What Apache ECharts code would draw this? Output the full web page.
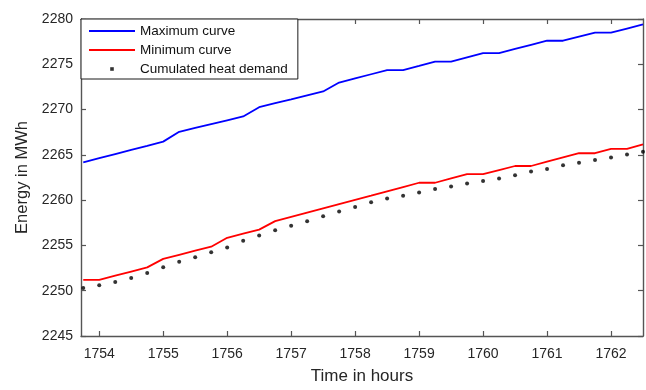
<!DOCTYPE html>
<html>
<head>
<meta charset="utf-8">
<script src="https://cdn.jsdelivr.net/npm/echarts@6/dist/echarts.min.js"></script>
<style>
  html, body { margin: 0; padding: 0; background: #fff; }
  #chart { width: 646px; height: 390px; }
</style>
</head>
<body>
<div id="chart"></div>
<script>
// Quarter-hour time stamps (hours)
const hours = [
  1753.75, 1754.0, 1754.25, 1754.5, 1754.75, 1755.0, 1755.25, 1755.5, 1755.75,
  1756.0, 1756.25, 1756.5, 1756.75, 1757.0, 1757.25, 1757.5, 1757.75,
  1758.0, 1758.25, 1758.5, 1758.75, 1759.0, 1759.25, 1759.5, 1759.75,
  1760.0, 1760.25, 1760.5, 1760.75, 1761.0, 1761.25, 1761.5, 1761.75,
  1762.0, 1762.25, 1762.5
];

// Upper energy bound (MWh)
const maximumCurve = [
  2264.17, 2264.63, 2265.09, 2265.55, 2266.00, 2266.46, 2267.54, 2267.97, 2268.40,
  2268.82, 2269.24, 2270.26, 2270.70, 2271.13, 2271.57, 2272.00, 2272.98,
  2273.44, 2273.90, 2274.35, 2274.35, 2274.82, 2275.30, 2275.30, 2275.77,
  2276.24, 2276.24, 2276.70, 2277.15, 2277.60, 2277.60, 2278.05, 2278.50,
  2278.50, 2278.95, 2279.40
];

// Lower energy bound (MWh)
const minimumCurve = [
  2251.20, 2251.20, 2251.66, 2252.12, 2252.58, 2253.52, 2253.97, 2254.42, 2254.86,
  2255.84, 2256.29, 2256.74, 2257.68, 2258.15, 2258.62, 2259.09, 2259.56,
  2260.03, 2260.50, 2260.98, 2261.45, 2261.92, 2261.92, 2262.40, 2262.87,
  2262.87, 2263.32, 2263.77, 2263.77, 2264.24, 2264.71, 2265.18, 2265.18,
  2265.65, 2265.65, 2266.16
];

// Cumulated heat demand (MWh)
const heatDemand = [
  2250.29, 2250.59, 2250.95, 2251.41, 2251.96, 2252.58, 2253.20, 2253.70, 2254.24,
  2254.78, 2255.51, 2256.09, 2256.67, 2257.17, 2257.68, 2258.23, 2258.74,
  2259.24, 2259.77, 2260.18, 2260.48, 2260.84, 2261.22, 2261.52, 2261.85,
  2262.10, 2262.39, 2262.76, 2263.15, 2263.45, 2263.85, 2264.13, 2264.42,
  2264.70, 2265.04, 2265.35
];

const xTicks = [1754, 1755, 1756, 1757, 1758, 1759, 1760, 1761, 1762];

const seriesNames = ['Maximum curve', 'Minimum curve', 'Cumulated heat demand'];

const pair = (vals) => hours.map((h, i) => [h, vals[i]]);

const FONT = '"Liberation Sans", Arial, Helvetica, sans-serif';
const AXIS_COLOR = '#555555';
const TEXT_COLOR = '#262626';

const X_MIN = 1753.715, X_MAX = 1762.5;
const Y_MIN = 2245, Y_MAX = 2280, Y_STEP = 5;

const plain = (v) => String(v);

const axisLine = { show: true, lineStyle: { color: AXIS_COLOR, width: 1.4 } };
const axisTickIn = { show: true, inside: true, length: 5, lineStyle: { color: AXIS_COLOR, width: 1.2 } };

// Legend glyphs: the leading moves fix each glyph's box to 46 x 14
const LINE_ICON = 'path://M0,0M46,14M0,6.1h46v1.8h-46z';
const DOT_ICON = 'path://M0,0M46,14M21.2,5.2h3.6v3.6h-3.6z';

const chart = echarts.init(document.getElementById('chart'), null, { renderer: 'canvas' });

chart.setOption({
  animation: false,
  backgroundColor: '#ffffff',
  textStyle: { fontFamily: FONT },
  grid: { left: 81, right: 3, top: 19, bottom: 49, containLabel: false },
  legend: {
    orient: 'vertical',
    left: 81,
    top: 19,
    backgroundColor: '#ffffff',
    borderColor: '#1a1a1a',
    borderWidth: 1,
    borderRadius: 0,
    padding: [5, 10, 3, 8],
    itemGap: 5,
    itemWidth: 46,
    itemHeight: 14,
    textStyle: { fontFamily: FONT, fontSize: 13.5, color: '#111111' },
    data: [
      { name: seriesNames[0], icon: LINE_ICON },
      { name: seriesNames[1], icon: LINE_ICON },
      { name: seriesNames[2], icon: DOT_ICON }
    ]
  },
  xAxis: [
    {
      type: 'value',
      position: 'bottom',
      min: X_MIN,
      max: X_MAX,
      name: 'Time in hours',
      nameLocation: 'middle',
      nameGap: 32,
      nameTextStyle: { fontFamily: FONT, fontSize: 17, color: TEXT_COLOR },
      axisLine: axisLine,
      axisTick: Object.assign({ customValues: xTicks }, axisTickIn),
      axisLabel: { customValues: xTicks, formatter: plain, margin: 11, fontFamily: FONT, fontSize: 14, color: TEXT_COLOR },
      splitLine: { show: false }
    },
    {
      type: 'value',
      position: 'top',
      min: X_MIN,
      max: X_MAX,
      axisLine: axisLine,
      axisTick: Object.assign({ customValues: xTicks }, axisTickIn),
      axisLabel: { show: false },
      splitLine: { show: false }
    }
  ],
  yAxis: [
    {
      type: 'value',
      position: 'left',
      min: Y_MIN,
      max: Y_MAX,
      interval: Y_STEP,
      name: 'Energy in MWh',
      nameLocation: 'middle',
      nameGap: 49,
      nameTextStyle: { fontFamily: FONT, fontSize: 16.5, color: TEXT_COLOR },
      axisLine: axisLine,
      axisTick: axisTickIn,
      axisLabel: { formatter: plain, margin: 8, fontFamily: FONT, fontSize: 14, color: TEXT_COLOR },
      splitLine: { show: false }
    },
    {
      type: 'value',
      position: 'right',
      min: Y_MIN,
      max: Y_MAX,
      interval: Y_STEP,
      axisLine: axisLine,
      axisTick: axisTickIn,
      axisLabel: { show: false },
      splitLine: { show: false }
    }
  ],
  series: [
    {
      name: seriesNames[0],
      type: 'line',
      xAxisIndex: 0,
      yAxisIndex: 0,
      symbol: 'none',
      color: '#0000ff',
      lineStyle: { color: '#0000ff', width: 1.8 },
      data: pair(maximumCurve)
    },
    {
      name: seriesNames[1],
      type: 'line',
      xAxisIndex: 0,
      yAxisIndex: 0,
      symbol: 'none',
      color: '#ff0000',
      lineStyle: { color: '#ff0000', width: 1.8 },
      data: pair(minimumCurve)
    },
    {
      name: seriesNames[2],
      type: 'scatter',
      xAxisIndex: 0,
      yAxisIndex: 0,
      symbol: 'circle',
      symbolSize: 4,
      color: '#000000',
      itemStyle: { color: '#000000' },
      data: pair(heatDemand)
    }
  ]
});
</script>
</body>
</html>
